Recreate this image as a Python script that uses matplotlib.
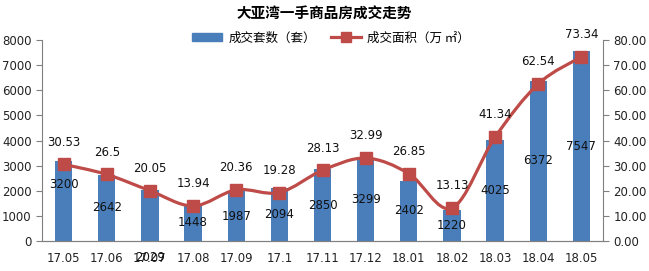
import matplotlib
matplotlib.use("Agg")
import matplotlib.pyplot as plt
from matplotlib.path import Path
from matplotlib.patches import PathPatch
from matplotlib.lines import Line2D
from matplotlib.patches import Patch
import numpy as np

plt.rcParams['font.family'] = ['DejaVu Sans', 'Noto Sans CJK SC']

months = ['17.05', '17.06', '17.07', '17.08', '17.09', '17.1', '17.11',
          '17.12', '18.01', '18.02', '18.03', '18.04', '18.05']
units = [3200, 2642, 2029, 1448, 1987, 2094, 2850, 3299, 2402, 1220, 4025, 6372, 7547]
area = [30.53, 26.5, 20.05, 13.94, 20.36, 19.28, 28.13, 32.99, 26.85, 13.13, 41.34, 62.54, 73.34]

bar_color = '#4a7ebb'
line_color = '#be4b48'
grey = '#808080'

fig = plt.figure(figsize=(6.49, 2.71), dpi=100)
ax = fig.add_axes([42 / 649, 1 - 241 / 271, 561 / 649, 201 / 271])
ax2 = ax.twinx()

x = np.arange(len(months))
ax.bar(x, units, width=0.4, color=bar_color, zorder=2)
ax.set_xlim(-0.5, len(months) - 0.5)
ax.set_ylim(0, 8000)
ax.set_yticks(range(0, 8001, 1000))
ax.set_xticks(x)
ax.set_xticklabels(months)
ax2.set_ylim(0, 80)
ax2.set_yticks(range(0, 81, 10))
ax2.set_yticklabels([f'{v:.2f}' for v in range(0, 81, 10)])

for a in (ax, ax2):
    a.spines['top'].set_visible(False)
    for s in ('left', 'right', 'bottom'):
        a.spines[s].set_color(grey)
    a.tick_params(labelsize=8.5, colors='#222222', length=4, color=grey)
ax.tick_params(axis='x', length=0, pad=8)
ax2.spines['left'].set_visible(False)
ax.spines['right'].set_visible(False)

# smoothed line (Excel-like bezier through the points)
pts = np.column_stack([x, area])
verts = [pts[0]]
codes = [Path.MOVETO]
n = len(pts)
for i in range(n - 1):
    p0 = pts[max(i - 1, 0)]
    p1 = pts[i]
    p2 = pts[i + 1]
    p3 = pts[min(i + 2, n - 1)]
    c1 = p1 + (p2 - p0) / 6
    c2 = p2 - (p3 - p1) / 6
    verts += [c1, c2, p2]
    codes += [Path.CURVE4] * 3
ax2.add_patch(PathPatch(Path(verts, codes), fill=False, edgecolor=line_color, lw=2.3, zorder=3))
ax2.plot(x, area, ls='none', marker='s', ms=8, color=line_color, zorder=4)

# labels
for i, v in enumerate(area):
    ax2.annotate(f'{v:g}', (i, v), xytext=(0, 16), textcoords='offset points',
                 ha='center', va='center', fontsize=8.5, color='#111111')

# the 17.07 label sits on the axis labels in the original
bar_offsets = {0: 12, 2: -30.5}
for i, v in enumerate(units):
    ax.annotate(str(v), (i, v / 2), xytext=(0, bar_offsets.get(i, 0)),
                textcoords='offset points', ha='center', va='center',
                fontsize=8.5, color='#111111', zorder=5, annotation_clip=False)

fig.text(0.5, 1 - 14 / 271, '大亚湾一手商品房成交走势', ha='center', va='center',
         fontsize=10.5, fontweight='bold', family=['Noto Sans CJK SC'])

handles = [Patch(color=bar_color),
           Line2D([], [], color=line_color, lw=2.3, marker='s', ms=7)]
fig.legend(handles, ['成交套数（套）', '成交面积（万 ㎡）'], loc='center',
           bbox_to_anchor=(0.51, 1 - 38 / 271), ncol=2, frameon=False,
           prop={'family': ['Noto Sans CJK SC'], 'size': 9},
           handlelength=2.4, handleheight=0.6, columnspacing=1.2, handletextpad=0.5)

fig.savefig('out.png', dpi=100)
